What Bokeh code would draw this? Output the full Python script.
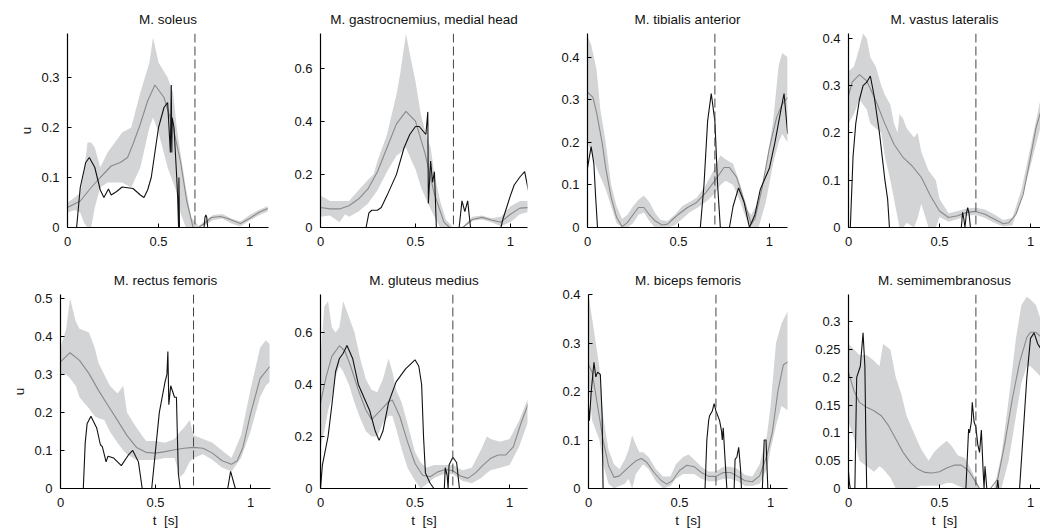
from bokeh.plotting import figure
from bokeh.layouts import row, column
from bokeh.models import Range1d, FixedTicker, Span
from bokeh.embed import file_html
from bokeh.resources import INLINE

toe_off = 0.7
x_ticks = [0, 0.5, 1]

titles = ["M. soleus", "M. gastrocnemius, medial head", "M. tibialis anterior", "M. vastus lateralis",
          "M. rectus femoris", "M. gluteus medius", "M. biceps femoris", "M. semimembranosus"]
y_max = [0.388, 0.73, 0.456, 0.41, 0.51, 0.746, 0.4, 0.349]
y_ticks = [[0, 0.1, 0.2, 0.3], [0, 0.2, 0.4, 0.6], [0, 0.1, 0.2, 0.3, 0.4], [0, 0.1, 0.2, 0.3, 0.4],
           [0, 0.1, 0.2, 0.3, 0.4, 0.5], [0, 0.2, 0.4, 0.6], [0, 0.1, 0.2, 0.3, 0.4],
           [0, 0.05, 0.1, 0.15, 0.2, 0.25, 0.3]]

# ---- M. soleus ----
sol_band_t = [0, 0.04, 0.07, 0.09, 0.11, 0.13, 0.15, 0.18, 0.22, 0.26, 0.3, 0.35, 0.4, 0.45, 0.47, 0.5, 0.55, 0.58, 0.6, 0.62, 0.65, 0.68, 0.72, 0.76, 0.8, 0.85, 0.9, 0.95, 1.0, 1.05, 1.1]
sol_hi = [0.05, 0.06, 0.07, 0.11, 0.17, 0.17, 0.16, 0.12, 0.15, 0.17, 0.19, 0.2, 0.27, 0.33, 0.38, 0.33, 0.3, 0.27, 0.2, 0.15, 0.08, 0.02, 0.003, 0.015, 0.025, 0.027, 0.018, 0.012, 0.025, 0.035, 0.043]
sol_lo = [0.03, 0.035, 0.03, 0.01, 0.0, 0.0, 0.04, 0.08, 0.09, 0.09, 0.09, 0.08, 0.12, 0.2, 0.22, 0.19, 0.12, 0.09, 0.07, 0.03, 0.0, 0.0, 0.0, 0.005, 0.015, 0.018, 0.008, 0.002, 0.014, 0.024, 0.032]
sol_mean_t = [0, 0.07, 0.13, 0.18, 0.24, 0.29, 0.33, 0.36, 0.4, 0.44, 0.48, 0.53, 0.58, 0.62, 0.655, 0.69, 0.72, 0.76, 0.79, 0.84, 0.88, 0.92, 0.95, 1.0, 1.05, 1.1]
sol_mean = [0.04, 0.053, 0.08, 0.1, 0.123, 0.13, 0.14, 0.167, 0.207, 0.253, 0.285, 0.26, 0.2, 0.133, 0.053, 0.0, 0.0, 0.01, 0.02, 0.022, 0.018, 0.012, 0.008, 0.018, 0.03, 0.038]
sol_emg_t = [0, 0.05, 0.07, 0.1, 0.12, 0.15, 0.18, 0.2, 0.225, 0.24, 0.27, 0.3, 0.36, 0.4, 0.42, 0.44, 0.46, 0.48, 0.5, 0.53, 0.55, 0.565, 0.57, 0.573, 0.575, 0.585, 0.6, 0.605, 0.61, 0.612, 0.615, 0.618, 0.75, 0.755, 0.76, 0.765, 0.77, 1.1]
sol_emg = [0, 0, 0.08, 0.13, 0.14, 0.12, 0.075, 0.06, 0.077, 0.065, 0.072, 0.081, 0.078, 0.065, 0.06, 0.075, 0.1, 0.15, 0.2, 0.24, 0.25, 0.15, 0.285, 0.15, 0.22, 0.2, 0.1, 0.06, 0, 0.1, 0, 0, 0, 0.02, 0.025, 0.02, 0, 0]

# ---- M. gastrocnemius ----
gas_band_t = [0, 0.05, 0.1, 0.13, 0.15, 0.2, 0.25, 0.28, 0.3, 0.35, 0.4, 0.42, 0.45, 0.48, 0.5, 0.53, 0.56, 0.58, 0.6, 0.63, 0.66, 0.7, 0.75, 0.8, 0.85, 0.9, 0.95, 1.0, 1.05, 1.1]
gas_hi = [0.12, 0.1, 0.1, 0.1, 0.1, 0.14, 0.18, 0.2, 0.25, 0.35, 0.5, 0.58, 0.73, 0.62, 0.55, 0.42, 0.34, 0.3, 0.2, 0.1, 0.03, 0.0, 0.005, 0.04, 0.045, 0.035, 0.04, 0.08, 0.1, 0.1]
gas_lo = [0.04, 0.045, 0.02, 0.05, 0.04, 0.06, 0.09, 0.12, 0.14, 0.21, 0.27, 0.28, 0.3, 0.25, 0.22, 0.15, 0.1, 0.07, 0.04, 0.0, 0.0, 0.0, 0.0, 0.025, 0.03, 0.02, 0.005, 0.02, 0.05, 0.06]
gas_mean_t = [0, 0.05, 0.1, 0.15, 0.2, 0.25, 0.3, 0.35, 0.4, 0.45, 0.5, 0.55, 0.6, 0.65, 0.68, 0.75, 0.8, 0.85, 0.9, 0.95, 1.0, 1.05, 1.1]
gas_mean = [0.075, 0.07, 0.07, 0.082, 0.107, 0.145, 0.21, 0.3, 0.39, 0.437, 0.4, 0.28, 0.125, 0.02, 0.0, 0.0, 0.03, 0.038, 0.028, 0.02, 0.05, 0.073, 0.075]
gas_emg_t = [0, 0.24, 0.255, 0.27, 0.3, 0.32, 0.35, 0.4, 0.44, 0.47, 0.5, 0.52, 0.555, 0.565, 0.568, 0.58, 0.59, 0.6, 0.61, 0.73, 0.745, 0.76, 0.775, 0.79, 0.95, 0.96, 1.0, 1.02, 1.05, 1.075, 1.1]
gas_emg = [0, 0, 0.055, 0.065, 0.065, 0.075, 0.12, 0.2, 0.3, 0.35, 0.38, 0.38, 0.35, 0.435, 0.09, 0.25, 0.17, 0.21, 0, 0, 0.1, 0.06, 0.1, 0, 0, 0.03, 0.12, 0.16, 0.19, 0.21, 0.12]

# ---- M. tibialis anterior ----
tib_band_t = [0, 0.02, 0.05, 0.07, 0.1, 0.13, 0.16, 0.19, 0.22, 0.25, 0.28, 0.31, 0.34, 0.37, 0.4, 0.44, 0.48, 0.52, 0.56, 0.6, 0.65, 0.7, 0.73, 0.76, 0.8, 0.84, 0.88, 0.9, 0.94, 0.98, 1.02, 1.05, 1.07, 1.1]
tib_hi = [0.45, 0.43, 0.37, 0.28, 0.2, 0.1, 0.05, 0.02, 0.03, 0.05, 0.065, 0.075, 0.06, 0.035, 0.018, 0.015, 0.03, 0.05, 0.06, 0.07, 0.1, 0.14, 0.17, 0.16, 0.15, 0.1, 0.04, 0.03, 0.06, 0.14, 0.25, 0.38, 0.41, 0.4]
tib_lo = [0.2, 0.18, 0.14, 0.12, 0.09, 0.05, 0.01, 0.0, 0.0, 0.01, 0.03, 0.035, 0.015, 0.0, 0.0, 0.0, 0.005, 0.02, 0.035, 0.045, 0.06, 0.08, 0.1, 0.11, 0.1, 0.06, 0.01, 0.0, 0.0, 0.06, 0.15, 0.2, 0.22, 0.2]
tib_mean_t = [0, 0.03, 0.05, 0.08, 0.1, 0.13, 0.16, 0.19, 0.22, 0.25, 0.28, 0.31, 0.34, 0.37, 0.41, 0.44, 0.47, 0.5, 0.55, 0.6, 0.65, 0.7, 0.75, 0.78, 0.82, 0.86, 0.9, 0.92, 0.96, 1.0, 1.04, 1.07, 1.1]
tib_mean = [0.318, 0.306, 0.27, 0.2, 0.14, 0.07, 0.024, 0.002, 0.012, 0.03, 0.047, 0.047, 0.03, 0.016, 0.006, 0.008, 0.02, 0.031, 0.047, 0.059, 0.082, 0.11, 0.141, 0.141, 0.118, 0.063, 0.008, 0.02, 0.094, 0.188, 0.26, 0.29, 0.306]
tib_emg_t = [0, 0.02, 0.035, 0.045, 0.055, 0.62, 0.64, 0.66, 0.68, 0.7, 0.715, 0.73, 0.78, 0.8, 0.83, 0.86, 0.89, 0.92, 0.95, 0.98, 1.0, 1.03, 1.06, 1.08, 1.1]
tib_emg = [0.14, 0.19, 0.15, 0.07, 0, 0, 0.1, 0.25, 0.315, 0.25, 0.1, 0, 0, 0.05, 0.093, 0.06, 0, 0.03, 0.09, 0.12, 0.14, 0.2, 0.27, 0.315, 0.22]

# ---- M. vastus lateralis ----
vas_band_t = [0, 0.03, 0.06, 0.08, 0.1, 0.12, 0.15, 0.18, 0.2, 0.23, 0.25, 0.27, 0.28, 0.3, 0.32, 0.36, 0.38, 0.4, 0.44, 0.46, 0.48, 0.5, 0.55, 0.6, 0.65, 0.7, 0.75, 0.8, 0.85, 0.9, 0.95, 1.0, 1.06]
vas_hi = [0.33, 0.34, 0.38, 0.41, 0.4, 0.36, 0.34, 0.3, 0.28, 0.26, 0.22, 0.2, 0.24, 0.23, 0.21, 0.19, 0.2, 0.16, 0.12, 0.11, 0.1, 0.06, 0.03, 0.035, 0.04, 0.042, 0.038, 0.028, 0.016, 0.02, 0.08, 0.17, 0.28]
vas_lo = [0.22, 0.24, 0.27, 0.26, 0.25, 0.22, 0.21, 0.2, 0.15, 0.1, 0.06, 0.02, 0.0, 0.0, 0.01, 0.0, 0.02, 0.05, 0.0, 0.0, 0.0, 0.022, 0.012, 0.018, 0.025, 0.027, 0.02, 0.01, 0.002, 0.004, 0.06, 0.13, 0.22]
vas_mean_t = [0, 0.02, 0.06, 0.1, 0.15, 0.2, 0.25, 0.3, 0.35, 0.4, 0.45, 0.5, 0.55, 0.6, 0.65, 0.7, 0.75, 0.8, 0.85, 0.88, 0.92, 0.96, 1.0, 1.03, 1.06]
vas_mean = [0.279, 0.307, 0.323, 0.31, 0.268, 0.219, 0.176, 0.148, 0.13, 0.106, 0.067, 0.035, 0.021, 0.025, 0.032, 0.034, 0.028, 0.018, 0.008, 0.01, 0.028, 0.07, 0.148, 0.21, 0.25]
vas_emg_t = [0, 0.01, 0.025, 0.04, 0.06, 0.08, 0.095, 0.105, 0.12, 0.14, 0.17, 0.2, 0.215, 0.225, 0.62, 0.627, 0.633, 0.64, 0.648, 0.655, 0.662, 0.67, 1.06]
vas_emg = [0, 0, 0.15, 0.22, 0.27, 0.3, 0.305, 0.31, 0.32, 0.28, 0.2, 0.1, 0.06, 0, 0, 0.032, 0.02, 0, 0.03, 0.042, 0.03, 0, 0]

# ---- M. rectus femoris ----
rec_band_t = [0, 0.03, 0.05, 0.08, 0.1, 0.15, 0.18, 0.2, 0.23, 0.26, 0.3, 0.33, 0.35, 0.4, 0.45, 0.5, 0.55, 0.6, 0.63, 0.65, 0.68, 0.7, 0.75, 0.8, 0.85, 0.9, 0.95, 1.0, 1.05, 1.08, 1.1]
rec_hi = [0.37, 0.42, 0.5, 0.44, 0.42, 0.41, 0.37, 0.33, 0.3, 0.27, 0.25, 0.27, 0.2, 0.16, 0.125, 0.125, 0.12, 0.13, 0.15, 0.16, 0.18, 0.14, 0.13, 0.12, 0.1, 0.08, 0.14, 0.26, 0.37, 0.39, 0.38]
rec_lo = [0.3, 0.3, 0.29, 0.27, 0.24, 0.21, 0.19, 0.185, 0.18, 0.15, 0.12, 0.1, 0.09, 0.075, 0.075, 0.075, 0.08, 0.08, 0.03, 0.04, 0.07, 0.08, 0.09, 0.075, 0.055, 0.045, 0.08, 0.15, 0.24, 0.27, 0.28]
rec_mean_t = [0, 0.05, 0.1, 0.15, 0.2, 0.25, 0.3, 0.35, 0.4, 0.45, 0.5, 0.55, 0.6, 0.65, 0.7, 0.75, 0.8, 0.85, 0.9, 0.93, 0.96, 1.0, 1.05, 1.1]
rec_mean = [0.333, 0.357, 0.337, 0.302, 0.258, 0.218, 0.179, 0.139, 0.108, 0.095, 0.093, 0.097, 0.102, 0.106, 0.108, 0.106, 0.093, 0.073, 0.064, 0.073, 0.108, 0.196, 0.289, 0.32]
rec_emg_t = [0, 0.12, 0.13, 0.14, 0.16, 0.19, 0.21, 0.22, 0.24, 0.25, 0.28, 0.32, 0.36, 0.38, 0.41, 0.43, 0.48, 0.5, 0.52, 0.55, 0.56, 0.565, 0.57, 0.58, 0.6, 0.61, 0.62, 0.63, 0.88, 0.895, 0.92, 1.1]
rec_emg = [0, 0, 0.12, 0.17, 0.19, 0.16, 0.115, 0.11, 0.07, 0.085, 0.08, 0.06, 0.09, 0.1, 0.07, 0, 0, 0.1, 0.2, 0.28, 0.3, 0.36, 0.22, 0.27, 0.24, 0.24, 0.04, 0, 0, 0.045, 0, 0]

# ---- M. gluteus medius ----
glu_band_t = [0, 0.02, 0.04, 0.06, 0.08, 0.1, 0.12, 0.15, 0.18, 0.21, 0.24, 0.27, 0.3, 0.33, 0.36, 0.38, 0.4, 0.43, 0.46, 0.5, 0.53, 0.56, 0.6, 0.65, 0.7, 0.75, 0.8, 0.85, 0.88, 0.9, 0.95, 1.0, 1.05, 1.1]
glu_hi = [0.5, 0.7, 0.72, 0.62, 0.6, 0.62, 0.72, 0.66, 0.6, 0.5, 0.42, 0.38, 0.37, 0.42, 0.5, 0.45, 0.38, 0.33, 0.25, 0.14, 0.1, 0.08, 0.09, 0.09, 0.09, 0.07, 0.08, 0.15, 0.2, 0.19, 0.18, 0.19, 0.26, 0.35]
glu_lo = [0.16, 0.22, 0.3, 0.35, 0.43, 0.47, 0.45, 0.4, 0.33, 0.27, 0.22, 0.2, 0.2, 0.25, 0.28, 0.28, 0.23, 0.15, 0.08, 0.03, 0.0, 0.015, 0.04, 0.055, 0.055, 0.03, 0.02, 0.04, 0.06, 0.07, 0.08, 0.09, 0.16, 0.26]
glu_mean_t = [0, 0.03, 0.06, 0.1, 0.13, 0.16, 0.2, 0.24, 0.27, 0.32, 0.36, 0.38, 0.42, 0.46, 0.5, 0.54, 0.58, 0.62, 0.66, 0.7, 0.74, 0.78, 0.82, 0.86, 0.9, 0.94, 0.98, 1.02, 1.06, 1.1]
glu_mean = [0.328, 0.43, 0.508, 0.549, 0.527, 0.469, 0.379, 0.302, 0.265, 0.302, 0.334, 0.34, 0.276, 0.18, 0.096, 0.051, 0.045, 0.064, 0.073, 0.068, 0.048, 0.039, 0.06, 0.09, 0.116, 0.129, 0.129, 0.16, 0.25, 0.328]
glu_emg_t = [0, 0.01, 0.04, 0.06, 0.08, 0.1, 0.12, 0.14, 0.17, 0.2, 0.23, 0.26, 0.29, 0.31, 0.33, 0.36, 0.4, 0.45, 0.5, 0.52, 0.535, 0.545, 0.555, 0.58, 0.6, 0.655, 0.66, 0.67, 0.675, 0.68, 0.7, 0.72, 0.735, 1.1]
glu_emg = [0, 0.09, 0.2, 0.32, 0.45, 0.5, 0.52, 0.55, 0.5, 0.4, 0.35, 0.3, 0.22, 0.185, 0.22, 0.33, 0.41, 0.46, 0.495, 0.47, 0.4, 0.2, 0.06, 0.02, 0, 0, 0.08, 0.05, 0, 0.09, 0.12, 0.1, 0, 0]

# ---- M. biceps femoris ----
bic_band_t = [0, 0.02, 0.04, 0.06, 0.08, 0.11, 0.14, 0.17, 0.2, 0.22, 0.24, 0.26, 0.28, 0.3, 0.33, 0.37, 0.41, 0.45, 0.48, 0.52, 0.55, 0.58, 0.62, 0.66, 0.7, 0.74, 0.78, 0.82, 0.86, 0.9, 0.94, 0.98, 1.0, 1.03, 1.06, 1.1]
bic_hi = [0.4, 0.35, 0.3, 0.25, 0.15, 0.08, 0.05, 0.04, 0.06, 0.08, 0.11, 0.09, 0.075, 0.075, 0.065, 0.04, 0.025, 0.025, 0.05, 0.065, 0.07, 0.06, 0.045, 0.035, 0.035, 0.045, 0.045, 0.04, 0.028, 0.025, 0.05, 0.11, 0.17, 0.3, 0.34, 0.37]
bic_lo = [0.22, 0.14, 0.12, 0.1, 0.05, 0.01, 0.0, 0.005, 0.01, 0.02, 0.0, 0.03, 0.04, 0.05, 0.04, 0.015, 0.0, 0.005, 0.02, 0.03, 0.03, 0.03, 0.02, 0.015, 0.015, 0.02, 0.02, 0.015, 0.005, 0.005, 0.01, 0.04, 0.08, 0.13, 0.17, 0.16]
bic_mean_t = [0, 0.02, 0.05, 0.08, 0.11, 0.14, 0.17, 0.2, 0.23, 0.26, 0.29, 0.32, 0.36, 0.4, 0.43, 0.46, 0.5, 0.54, 0.58, 0.62, 0.66, 0.7, 0.74, 0.78, 0.82, 0.86, 0.9, 0.94, 0.98, 1.01, 1.04, 1.07, 1.1]
bic_mean = [0.255, 0.24, 0.17, 0.1, 0.047, 0.023, 0.026, 0.037, 0.047, 0.057, 0.062, 0.054, 0.033, 0.016, 0.009, 0.016, 0.037, 0.048, 0.045, 0.033, 0.025, 0.025, 0.033, 0.033, 0.025, 0.016, 0.014, 0.026, 0.068, 0.116, 0.2, 0.255, 0.262]
bic_emg_t = [0, 0.005, 0.015, 0.03, 0.04, 0.05, 0.065, 0.075, 0.08, 0.64, 0.65, 0.66, 0.665, 0.68, 0.69, 0.7, 0.72, 0.73, 0.735, 0.74, 0.75, 0.76, 0.8, 0.805, 0.815, 0.825, 0.835, 0.84, 0.955, 0.965, 0.975, 0.985, 1.1]
bic_emg = [0.17, 0.14, 0.2, 0.26, 0.23, 0.24, 0.235, 0.15, 0, 0, 0.1, 0.14, 0.15, 0.16, 0.175, 0.16, 0.14, 0.12, 0.1, 0.125, 0.06, 0, 0, 0.06, 0.065, 0.085, 0.04, 0, 0, 0.1, 0.1, 0, 0]

# ---- M. semimembranosus ----
sem_band_t = [0, 0.03, 0.06, 0.1, 0.14, 0.17, 0.19, 0.23, 0.26, 0.29, 0.32, 0.36, 0.4, 0.44, 0.47, 0.5, 0.54, 0.57, 0.6, 0.64, 0.68, 0.72, 0.8, 0.84, 0.88, 0.92, 0.95, 0.98, 1.0, 1.03, 1.06]
sem_hi = [0.26, 0.25, 0.24, 0.24, 0.23, 0.22, 0.26, 0.25, 0.2, 0.17, 0.13, 0.1, 0.07, 0.05, 0.065, 0.075, 0.086, 0.075, 0.06, 0.055, 0.03, 0.0, 0.0, 0.06, 0.16, 0.27, 0.33, 0.345, 0.34, 0.33, 0.3]
sem_lo = [0.12, 0.09, 0.05, 0.04, 0.03, 0.04, 0.035, 0.02, 0.0, 0.0, 0.0, 0.0, 0.005, 0.005, 0.005, 0.005, 0.01, 0.01, 0.005, 0.0, 0.0, 0.0, 0.0, 0.0, 0.05, 0.13, 0.19, 0.22, 0.22, 0.21, 0.2]
sem_mean_t = [0, 0.03, 0.06, 0.1, 0.14, 0.18, 0.22, 0.26, 0.3, 0.34, 0.38, 0.42, 0.46, 0.5, 0.54, 0.58, 0.62, 0.66, 0.7, 0.72, 0.78, 0.82, 0.86, 0.9, 0.94, 0.98, 1.0, 1.03, 1.06]
sem_mean = [0.209, 0.176, 0.155, 0.146, 0.14, 0.131, 0.113, 0.089, 0.065, 0.047, 0.035, 0.029, 0.028, 0.03, 0.037, 0.042, 0.042, 0.032, 0.011, 0.0, 0.0, 0.017, 0.083, 0.161, 0.227, 0.272, 0.281, 0.281, 0.272]
sem_emg_t = [0, 0.005, 0.01, 0.035, 0.045, 0.06, 0.065, 0.08, 0.09, 0.095, 0.1, 0.645, 0.66, 0.665, 0.675, 0.68, 0.69, 0.7, 0.71, 0.72, 0.73, 0.74, 0.745, 0.75, 0.76, 0.815, 0.82, 0.825, 0.94, 0.96, 0.98, 1.0, 1.02, 1.04, 1.06]
sem_emg = [0.03, 0.01, 0, 0, 0.2, 0.215, 0.22, 0.28, 0.22, 0.1, 0, 0, 0.107, 0.1, 0.12, 0.155, 0.12, 0.11, 0.08, 0.065, 0.105, 0.03, 0, 0.04, 0, 0, 0.015, 0, 0, 0.1, 0.2, 0.27, 0.28, 0.26, 0.25]

panels = [
    (sol_band_t, sol_hi, sol_lo, sol_mean_t, sol_mean, sol_emg_t, sol_emg),
    (gas_band_t, gas_hi, gas_lo, gas_mean_t, gas_mean, gas_emg_t, gas_emg),
    (tib_band_t, tib_hi, tib_lo, tib_mean_t, tib_mean, tib_emg_t, tib_emg),
    (vas_band_t, vas_hi, vas_lo, vas_mean_t, vas_mean, vas_emg_t, vas_emg),
    (rec_band_t, rec_hi, rec_lo, rec_mean_t, rec_mean, rec_emg_t, rec_emg),
    (glu_band_t, glu_hi, glu_lo, glu_mean_t, glu_mean, glu_emg_t, glu_emg),
    (bic_band_t, bic_hi, bic_lo, bic_mean_t, bic_mean, bic_emg_t, bic_emg),
    (sem_band_t, sem_hi, sem_lo, sem_mean_t, sem_mean, sem_emg_t, sem_emg),
]

# layout (left border, frame width, right border, x max) per panel
geom = [(67, 201, 10, 1.104), (42, 207, 10, 1.09), (50, 200, 10, 1.099), (51, 192, 0, 1.055),
        (60, 210, 8, 1.105), (42, 207, 10, 1.095), (51, 199, 10, 1.093), (51, 192, 0, 1.055)]

FONT = "Liberation Sans"
BAND = "#d3d4d6"
MEAN = "#8a8a8a"


def fmt(v):
    return f"{v:g}"


figs = []
for i in range(8):
    bt, hi, lo, mt, mu, et, eu = panels[i]
    L, FW, R, xm = geom[i]
    top_row = i < 4
    p = figure(frame_width=FW, frame_height=194,
               min_border_left=L, min_border_right=R, min_border_top=33,
               min_border_bottom=34 if top_row else 43,
               x_range=Range1d(0, xm), y_range=Range1d(0, y_max[i]),
               output_backend="svg", toolbar_location=None, title=titles[i])
    p.outline_line_color = None
    p.xgrid.visible = False
    p.ygrid.visible = False
    p.background_fill_color = "white"
    p.border_fill_color = "white"
    p.title.text_font = FONT
    p.title.text_font_size = "13.5px"
    p.title.text_font_style = "normal"
    p.title.text_color = "#111111"
    p.title.align = "center"
    p.title.standoff = 13

    p.patch(x=bt + bt[::-1], y=hi + lo[::-1], fill_color=BAND, line_color=None)
    p.line(mt, mu, line_color=MEAN, line_width=1.1)
    p.line(et, eu, line_color="#111111", line_width=1.1)
    p.add_layout(Span(location=toe_off, dimension="height", line_color="#444444",
                      line_dash="9 4", line_width=1))

    for ax in (p.xaxis[0], p.yaxis[0]):
        ax.axis_line_color = "black"
        ax.axis_line_width = 1.2
        ax.major_tick_line_color = "black"
        ax.major_tick_in = 4
        ax.major_tick_out = 0
        ax.minor_tick_in = 0
        ax.minor_tick_out = 0
        ax.major_label_text_font = FONT
        ax.major_label_text_font_size = "13px"
        ax.major_label_text_color = "#111111"
        ax.axis_label_text_font = FONT
        ax.axis_label_text_font_size = "13.5px"
        ax.axis_label_text_font_style = "normal"
        ax.axis_label_text_color = "#111111"
    p.xaxis.ticker = FixedTicker(ticks=x_ticks)
    p.xaxis.major_label_overrides = {float(v): fmt(v) for v in x_ticks}
    p.xaxis.major_label_standoff = 9
    p.yaxis.ticker = FixedTicker(ticks=y_ticks[i])
    p.yaxis.major_label_overrides = {float(v): fmt(v) for v in y_ticks[i]}
    p.yaxis.major_label_standoff = 8
    if i % 4 == 0:
        p.yaxis.axis_label = "u"
        p.yaxis.axis_label_standoff = 4
    if not top_row:
        p.xaxis.axis_label = "t\u00a0\u00a0[s]"
        p.xaxis.axis_label_standoff = 3
    figs.append(p)

layout = column(row(*figs[:4]), row(*figs[4:]))
open("out.html", "w").write(file_html(layout, INLINE))
